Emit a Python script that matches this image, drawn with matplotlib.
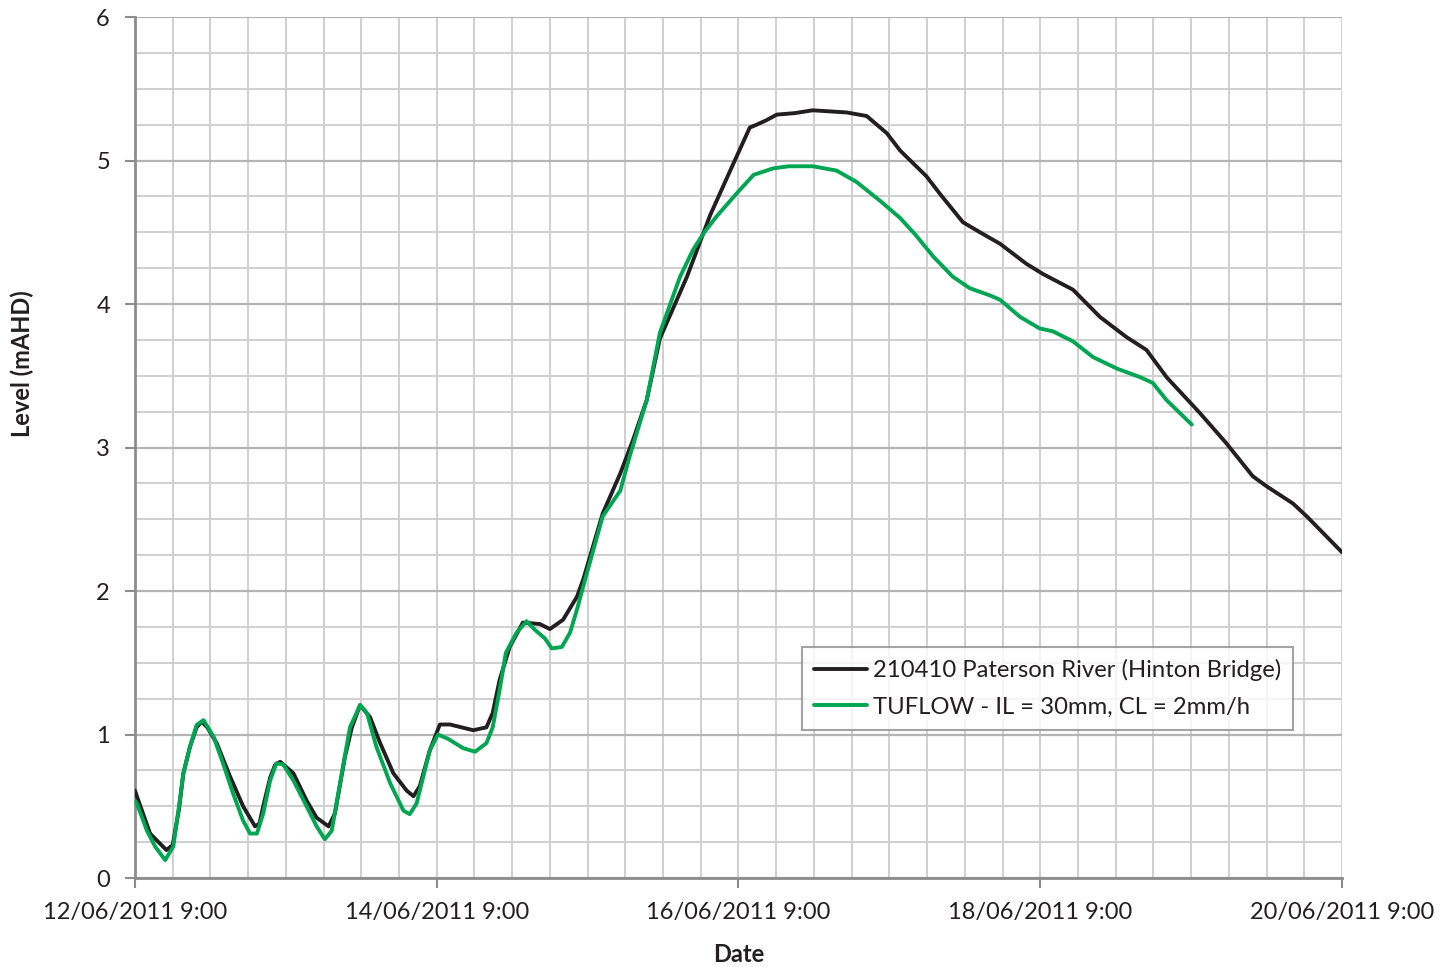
import datetime
import matplotlib
matplotlib.use("Agg")
import matplotlib.pyplot as plt
import matplotlib.dates as mdates
from matplotlib.ticker import MultipleLocator, FuncFormatter

plt.rcParams['font.family'] = ['Lato', 'DejaVu Sans']

# hours after 12/06/2011 9:00, level in mAHD
obsHours = [0, 0.3, 2.4, 5.0, 6.0, 7.0, 7.7, 8.75, 9.8, 10.6, 11.5, 13.0, 15.1, 17.2, 19.1,
            19.8, 20.4, 21.5, 22.3, 23.1, 25.2, 27.3, 28.9, 30.8, 31.8, 33.4, 34.5, 35.8,
            37.4, 39.0, 41.1, 43.2, 44.3, 45.3, 46.9, 48.5, 50.1, 53.8, 55.9, 56.9, 58.0,
            59.6, 61.7, 64.4, 66.0, 68.1, 70.3, 71.3, 74.4, 77.2, 79.2, 81.4, 83.5, 87.8,
            91.5, 95.2, 97.8, 98.9, 100.4, 102.1, 104.9, 107.8, 113.2, 116.4, 119.6, 121.7,
            123.8, 125.9, 128.0, 131.7, 134.4, 137.6, 141.8, 144.4, 149.2, 153.5, 157.7,
            160.9, 164.1, 169.4, 173.6, 177.8, 180.0, 184.2, 186.4, 192.0]
obsLevel = [0.61, 0.57, 0.31, 0.195, 0.23, 0.48, 0.73, 0.915, 1.05, 1.09, 1.05, 0.94, 0.71, 0.50, 0.36,
            0.38, 0.50, 0.70, 0.79, 0.81, 0.73, 0.54, 0.42, 0.36, 0.45, 0.845, 1.05, 1.205,
            1.12, 0.94, 0.73, 0.61, 0.57, 0.64, 0.89, 1.07, 1.07, 1.03, 1.05, 1.15, 1.38,
            1.61, 1.78, 1.77, 1.735, 1.80, 1.96, 2.08, 2.54, 2.82, 3.05, 3.33, 3.76, 4.19,
            4.62, 4.98, 5.23, 5.25, 5.28, 5.32, 5.33, 5.35, 5.335, 5.31, 5.19, 5.07,
            4.98, 4.89, 4.77, 4.57, 4.50, 4.42, 4.28, 4.21, 4.10, 3.91, 3.77,
            3.68, 3.49, 3.24, 3.03, 2.80, 2.73, 2.61, 2.52, 2.27]

tuflowHours = [0, 0.3, 1.9, 3.2, 4.8, 6.1, 7.0, 7.7, 8.75, 9.8, 10.9, 12.5, 14.0, 15.6, 17.2,
               18.3, 19.4, 20.4, 21.5, 22.5, 23.6, 25.2, 27.3, 28.9, 30.2, 31.3, 32.9, 34.2,
               35.8, 36.9, 38.4, 40.6, 42.7, 43.7, 44.8, 46.9, 48.2, 49.8, 52.2, 54.1, 55.9,
               56.9, 58.0, 59.0, 60.7, 62.3, 63.6, 65.2, 66.3, 67.9, 69.2, 70.3, 71.6, 74.4,
               77.2, 78.7, 81.4, 83.5, 86.7, 88.8, 90.4, 92.5, 95.7, 98.4, 101.5, 104.0,
               107.8, 111.6, 114.8, 118.5, 121.7, 124.2, 127.0, 130.1, 132.8, 136.0, 137.6,
               140.8, 143.9, 146.0, 149.2, 152.4, 156.2, 159.9, 161.9, 164.1, 168.1]
tuflowLevel = [0.54, 0.52, 0.33, 0.22, 0.125, 0.22, 0.50, 0.73, 0.915, 1.066, 1.10, 0.985, 0.80, 0.59, 0.40,
               0.31, 0.31, 0.45, 0.68, 0.80, 0.79, 0.68, 0.50, 0.36, 0.27, 0.33, 0.73, 1.05,
               1.205, 1.15, 0.915, 0.66, 0.47, 0.445, 0.52, 0.89, 1.00, 0.97, 0.905, 0.88, 0.94,
               1.05, 1.31, 1.57, 1.71, 1.79, 1.73, 1.67, 1.60, 1.61, 1.71, 1.87, 2.08, 2.52,
               2.70, 2.94, 3.33, 3.80, 4.19, 4.38, 4.49, 4.61, 4.77, 4.90, 4.945, 4.96,
               4.96, 4.93, 4.85, 4.72, 4.60, 4.48, 4.33, 4.19, 4.11, 4.06, 4.03,
               3.91, 3.83, 3.81, 3.74, 3.63, 3.55, 3.49, 3.45, 3.33, 3.16]

obsName = "210410 Paterson River (Hinton Bridge)"
tuflowName = "TUFLOW - IL = 30mm, CL = 2mm/h"

start = datetime.datetime(2011, 6, 12, 9, 0)
end = datetime.datetime(2011, 6, 20, 9, 0)
obsDates = [start + datetime.timedelta(hours=h) for h in obsHours]
tuflowDates = [start + datetime.timedelta(hours=h) for h in tuflowHours]

figure = plt.figure(figsize=(14.39, 9.67), dpi=100)
plot = figure.add_axes([0.0938, 0.092, 0.8388, 0.8904])

plot.plot(obsDates, obsLevel, color="#231f20", linewidth=2.8, label=obsName, zorder=3,
          solid_joinstyle="round", solid_capstyle="round")
plot.plot(tuflowDates, tuflowLevel, color="#00a651", linewidth=2.8, label=tuflowName, zorder=4,
          solid_joinstyle="round", solid_capstyle="round")

plot.set_xlim(start, end)
plot.set_ylim(0, 6)

major = [start + datetime.timedelta(days=2 * i) for i in range(5)]
plot.set_xticks(major)
plot.set_xticks([start + datetime.timedelta(hours=6 * i) for i in range(33)], minor=True)

def dateLabel(value, pos):
    d = mdates.num2date(value)
    return f"{d.day:02d}/{d.month:02d}/{d.year} {d.hour}:{d.minute:02d}"

plot.xaxis.set_major_formatter(FuncFormatter(dateLabel))
plot.yaxis.set_major_locator(MultipleLocator(1))
plot.yaxis.set_minor_locator(MultipleLocator(0.25))

plot.grid(which="minor", color="#cfcfcf", linewidth=1.4, zorder=0)
plot.xaxis.grid(which="major", color="#cfcfcf", linewidth=1.4, zorder=0)
plot.yaxis.grid(which="major", color="#b4b4b4", linewidth=1.6, zorder=0)
plot.set_axisbelow(True)

for side in ["top", "right"]:
    plot.spines[side].set_visible(False)
for side in ["left", "bottom"]:
    plot.spines[side].set_color("#8c8c8c")
    plot.spines[side].set_linewidth(2)

plot.tick_params(axis="both", which="major", direction="out", length=7, width=1.5,
                 color="#8c8c8c", labelsize=17, labelcolor="#231f20")
plot.tick_params(axis="x", which="major", pad=10)
plot.tick_params(axis="y", which="major", pad=11)
plot.tick_params(axis="both", which="minor", length=0)

plot.set_xlabel("Date", fontsize=17, fontweight="bold", color="#231f20", labelpad=15)
plot.set_ylabel("Level (mAHD)", fontsize=17, fontweight="bold", color="#231f20")
plot.yaxis.set_label_coords(-0.0936, 0.597)
plot.yaxis.label.set_verticalalignment("center")

legend = plot.legend(loc="upper left", bbox_to_anchor=(0.553, 0.2682), fontsize=17.2,
                     frameon=True, fancybox=False, handlelength=2.2, handletextpad=0.25,
                     borderpad=0.5, labelspacing=0.65, borderaxespad=0)
legend.get_frame().set_edgecolor("#8c8c8c")
legend.get_frame().set_linewidth(1.5)
for text in legend.get_texts():
    text.set_color("#231f20")

plt.savefig("out.png", dpi=100)
